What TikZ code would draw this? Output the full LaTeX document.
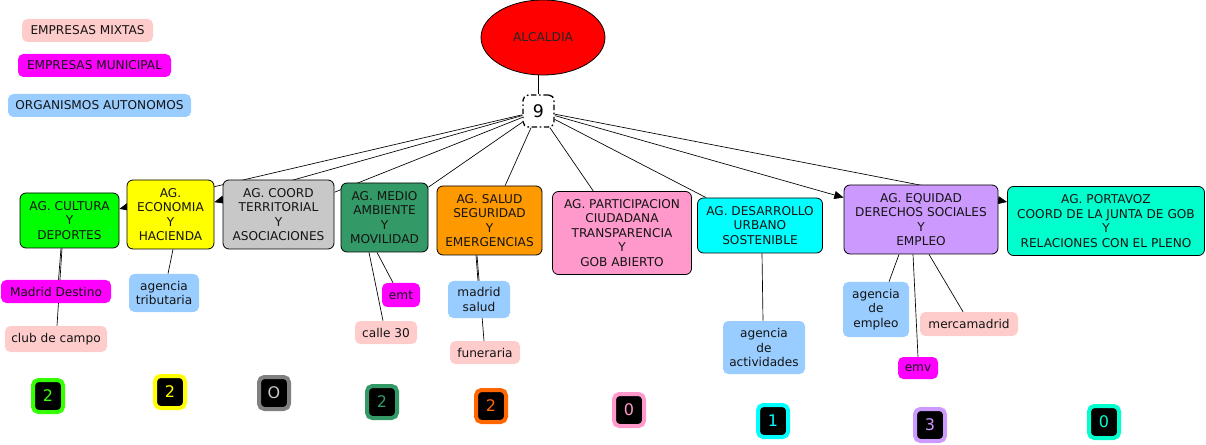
\documentclass[tikz,border=0pt]{standalone}
\usepackage{fontspec}
\setmainfont{DejaVu Sans}
\usetikzlibrary{shapes.geometric,arrows.meta,backgrounds,calc}
\definecolor{cgreen}{HTML}{00FF00}
\definecolor{cgreenb}{HTML}{33FF00}
\definecolor{cyellow}{HTML}{FFFF00}
\definecolor{cgray}{HTML}{C8C8C8}
\definecolor{cgrayb}{HTML}{808080}
\definecolor{csea}{HTML}{339966}
\definecolor{corange}{HTML}{FF9900}
\definecolor{corangeb}{HTML}{FF6600}
\definecolor{cpink}{HTML}{FF99CC}
\definecolor{ccyan}{HTML}{00FFFF}
\definecolor{clav}{HTML}{CC99FF}
\definecolor{caqua}{HTML}{00FFCC}
\definecolor{lpink}{HTML}{FFCCCC}
\definecolor{lmag}{HTML}{FF00FF}
\definecolor{lblue}{HTML}{99CCFF}
\begin{document}
\begin{tikzpicture}[x=0.75pt,y=-0.75pt,
  font=\fontsize{9.1}{10.9}\selectfont,
  sz/.style 2 args={minimum width=#1*0.75pt, minimum height=#2*0.75pt},
  ag/.style={draw=black, line width=0.6pt, rounded corners=4.5pt, align=center, text=black!92, inner sep=0pt},
  lbl/.style={rounded corners=4pt, align=center, inner sep=0pt, text=black!92},
  cnt/.style={draw=#1, line width=3pt, fill=black, text=#1, rounded corners=4pt,
    minimum width=22.5pt, minimum height=24pt, inner sep=0pt, font=\fontsize{12}{12}\selectfont},
  conn/.style={draw=black, line width=0.5pt},
  arr/.style={conn, -{Triangle[length=7pt,width=6pt]}}]
\useasboundingbox (0,0) rectangle (1206,445);
% legend
\node[lbl, fill=lpink, sz={131}{23}] (lmix) at (87.5,30.5) {EMPRESAS MIXTAS};
\node[lbl, fill=lmag, sz={153}{23}] (lmun) at (94.5,65.5) {EMPRESAS MUNICIPAL};
\node[lbl, fill=lblue, sz={183}{23}] (lorg) at (99.5,105.5) {ORGANISMOS AUTONOMOS};
% top
\node[ellipse, draw=black, line width=0.6pt, fill=red, sz={124}{75}, inner sep=0pt, text=black!85] (alc) at (543,37.5) {ALCALDIA};
\node[draw=black, line width=1pt, dash pattern=on 4pt off 2pt on 1.2pt off 2pt, rounded corners=4pt, fill=white, sz={31}{32}, inner sep=0pt, font=\fontsize{13}{13}\selectfont] (nine) at (538.5,111) {9};
% agencies
\node[ag, fill=cgreen, sz={99}{55}] (cult) at (69.5,220.5) {AG. CULTURA\\Y\\DEPORTES};
\node[ag, fill=cyellow, sz={87}{69}] (econ) at (170.5,214.5) {AG.\\ECONOMIA\\Y\\HACIENDA};
\node[ag, fill=cgray, sz={111}{69}] (coord) at (278.5,214.5) {AG. COORD\\TERRITORIAL\\Y\\ASOCIACIONES};
\node[ag, fill=csea, sz={87}{69}] (medio) at (384.5,217.5) {AG. MEDIO\\AMBIENTE\\Y\\MOVILIDAD};
\node[ag, fill=corange, sz={105}{69}] (salud) at (489.5,220.5) {AG. SALUD\\SEGURIDAD\\Y\\EMERGENCIAS};
\node[ag, fill=cpink, sz={139}{83}] (part) at (622,233) {AG. PARTICIPACION\\CIUDADANA\\TRANSPARENCIA\\Y\\GOB ABIERTO};
\node[ag, fill=ccyan, sz={125}{55}] (desa) at (760,225.5) {AG. DESARROLLO\\URBANO\\SOSTENIBLE};
\node[ag, fill=clav, sz={154}{69}] (equi) at (921,219.5) {AG. EQUIDAD\\DERECHOS SOCIALES\\Y\\EMPLEO};
\node[ag, fill=caqua, sz={197}{69}] (port) at (1106,221) {AG. PORTAVOZ\\COORD DE LA JUNTA DE GOB\\Y\\RELACIONES CON EL PLENO};
% sub labels
\node[lbl, fill=lmag, sz={110}{23}] (mdest) at (56,291.5) {Madrid Destino};
\node[lbl, fill=lpink, sz={102}{26}] (club) at (56,339) {club de campo};
\node[lbl, fill=lblue, sz={70}{38}] (atrib) at (164,293) {agencia\\tributaria};
\node[lbl, fill=lmag, sz={38}{24}] (emt) at (401,295) {emt};
\node[lbl, fill=lpink, sz={62}{23}] (calle) at (386,332.5) {calle 30};
\node[lbl, fill=lblue, sz={62}{37}] (msalud) at (479,299.5) {madrid\\salud};
\node[lbl, fill=lpink, sz={70}{23}] (fun) at (485,352.5) {funeraria};
\node[lbl, fill=lblue, sz={82}{53}] (act) at (764,347.5) {agencia\\de\\actividades};
\node[lbl, fill=lblue, sz={66}{55}] (aemp) at (876,309.5) {agencia\\de\\empleo};
\node[lbl, fill=lpink, sz={98}{24}] (merca) at (969,324) {mercamadrid};
\node[lbl, fill=lmag, sz={40}{22}] (emv) at (918,368) {emv};
% counters
\node[cnt=cgreenb] (k1) at (48,396) {2};
\node[cnt=cyellow] (k2) at (170,392) {2};
\node[cnt=cgrayb, text=cgray] (k3) at (274,393) {O};
\node[cnt=csea] (k4) at (382,402) {2};
\node[cnt=corangeb] (k5) at (491,406) {2};
\node[cnt=cpink] (k6) at (629,410) {0};
\node[cnt=ccyan] (k7) at (773,421) {1};
\node[cnt=clav] (k8) at (930,425) {3};
\node[cnt=caqua] (k9) at (1104,422) {0};
% connectors
\begin{scope}[on background layer]
\draw[conn] (nine.north) -- (nine.north |- alc.south);
\draw[arr] (nine) -- (cult);
\draw[arr] (nine) -- (econ);
\draw[conn] (nine) -- (coord);
\draw[conn] (nine) -- (medio);
\draw[conn] (nine) -- (salud);
\draw[conn] (nine) -- (part);
\draw[conn] (nine) -- (desa);
\draw[arr] (nine) -- (equi);
\draw[arr] (nine) -- (port);
\draw[conn] ($(cult.south)+(-8.5,0)$) -- ($(mdest.north)+(2.5,0)$);
\draw[conn] ($(cult.south)+(-7.5,0)$) -- ($(club.north)+(1,0)$);
\draw[conn] ($(econ.south)+(2.5,0)$) -- ($(atrib.north)+(4,0)$);
\draw[conn] ($(medio.south)+(-7.5,0)$) -- ($(emt.north)+(-8,0)$);
\draw[conn] ($(medio.south)+(-15.5,0)$) -- ($(calle.north)+(-3,0)$);
\draw[conn] ($(salud.south)+(-13.5,0)$) -- ($(msalud.north)+(-1,0)$);
\draw[conn] ($(salud.south)+(-12.5,0)$) -- ($(fun.north)+(-1,0)$);
\draw[conn] ($(desa.south)+(2,0)$) -- ($(act.north)+(-1,0)$);
\draw[conn] ($(equi.south)+(-22,0)$) -- ($(aemp.north)+(13,0)$);
\draw[conn] ($(equi.south)+(-8,0)$) -- (emv.north);
\draw[conn] ($(equi.south)+(8,0)$) -- ($(merca.north)+(-6,0)$);
\end{scope}
\end{tikzpicture}
\end{document}
